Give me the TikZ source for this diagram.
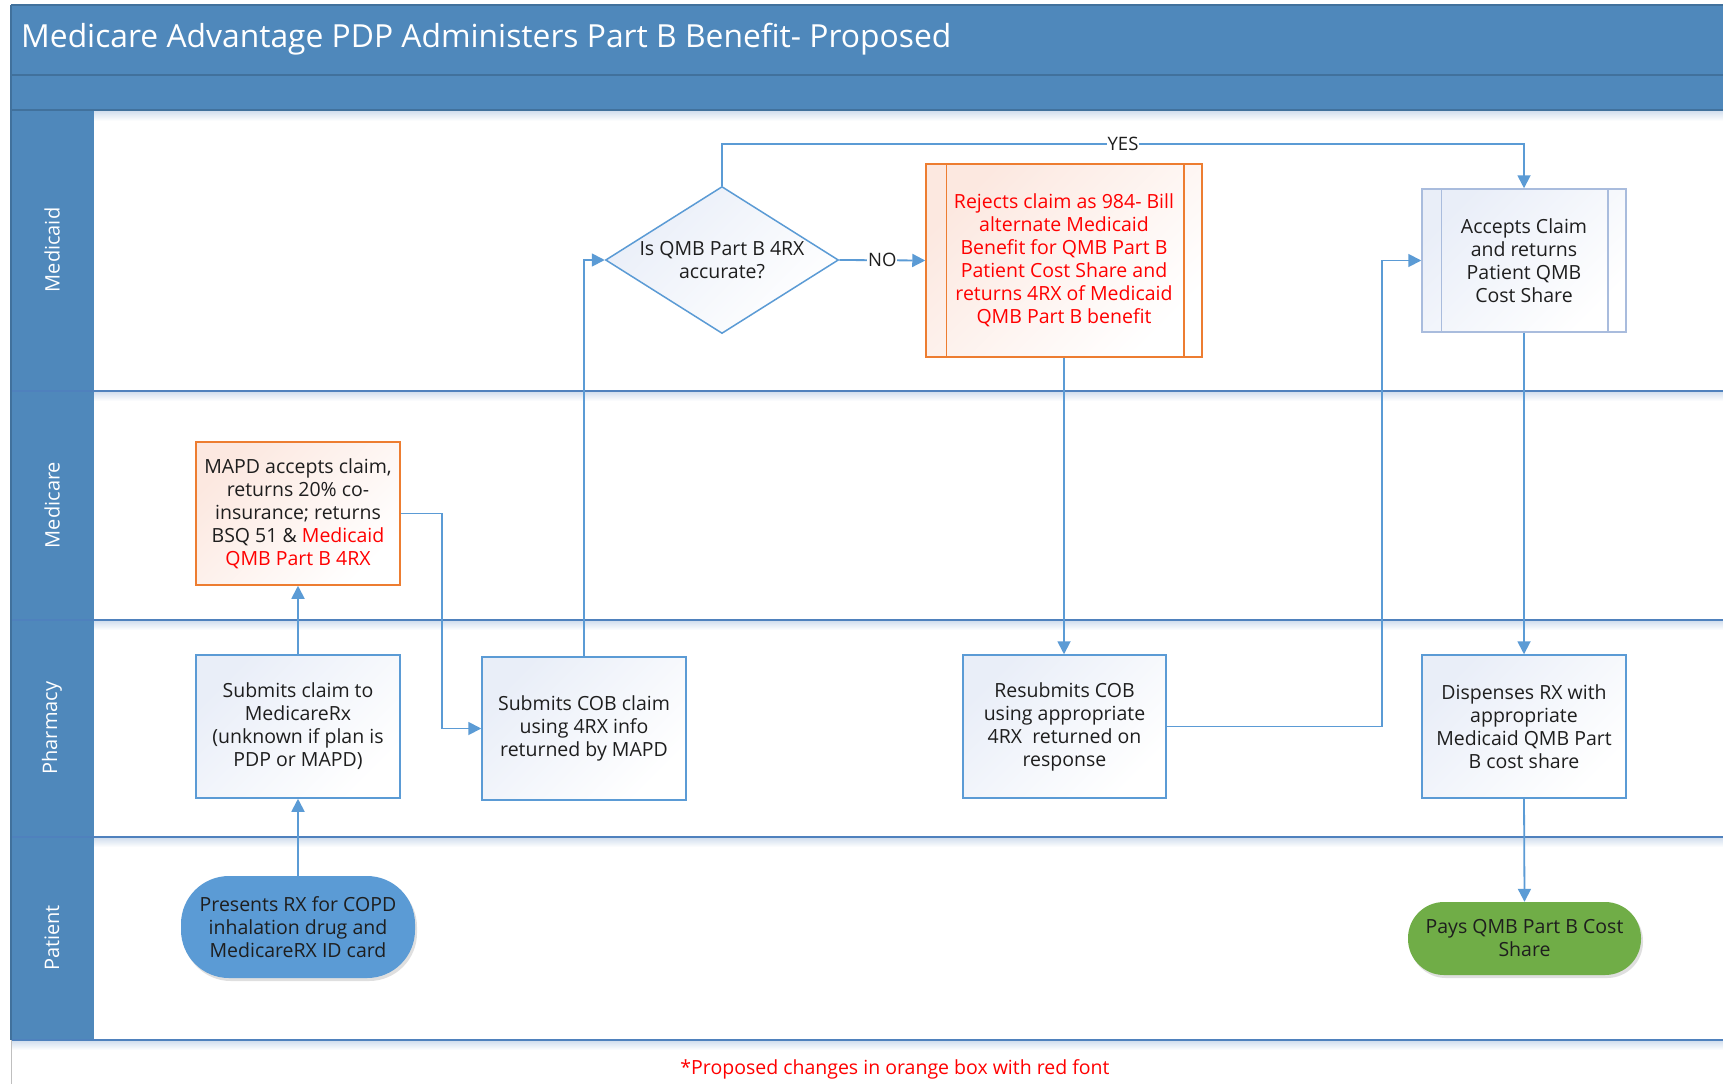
\documentclass[tikz,border=0pt]{standalone}
\usepackage{fontspec}
\setmainfont{Open Sans}
\usetikzlibrary{shapes.geometric,arrows.meta,shadows,calc}
\definecolor{hdr}{HTML}{4F88BB}
\definecolor{hdrline}{HTML}{41719C}
\definecolor{laneline}{HTML}{4F81BD}
\definecolor{connc}{HTML}{5B9BD5}
\definecolor{boxline}{HTML}{5B9BD5}
\definecolor{graybox}{HTML}{A9BCDD}
\definecolor{orangeline}{HTML}{ED7D31}
\definecolor{boxfill}{HTML}{E9EEF8}
\definecolor{orangefill}{HTML}{FCE8E0}
\definecolor{redtxt}{HTML}{FF0000}
\definecolor{greenfill}{HTML}{70AD47}
\definecolor{bluefill}{HTML}{5B9BD5}
\definecolor{txt}{HTML}{1E1E1E}
\definecolor{shadowc}{HTML}{D3DFEE}
\begin{document}
\begin{tikzpicture}[x=1pt,y=-1pt,
  every node/.style={font=\fontsize{19.5pt}{23pt}\selectfont, text=txt},
  proc/.style={draw=boxline, line width=1.5pt, top color=boxfill, bottom color=white, shading angle=45,
    minimum width=204pt, minimum height=143pt, align=center, inner sep=0pt},
  orangebox/.style={proc, draw=orangeline, top color=orangefill, bottom color=white, shading angle=45},
  predef/.style={proc, draw=graybox},
  decision/.style={shape=diamond, draw=boxline, line width=1.5pt, top color=boxfill, bottom color=white, shading angle=45,
    minimum width=233pt, minimum height=147pt, inner sep=0pt},
  terminal/.style={align=center, inner sep=0pt, drop shadow={shadow xshift=2pt, shadow yshift=-3pt, opacity=0.25}},
  arrowline/.style={draw=connc, line width=1.8pt, -{Triangle[length=13pt,width=13pt]}},
  lbl/.style={fill=white, inner sep=1pt, font=\fontsize{18.5pt}{22pt}\selectfont},
  lanelbl/.style={rotate=90, text=white, font=\fontsize{20pt}{24pt}\selectfont, inner sep=0pt},
  lane/.style={draw=laneline, line width=1.5pt},
  laneshadow/.style={top color=shadowc, bottom color=white, draw=none}
]
\useasboundingbox (0,0) rectangle (1723,1084);
\fill[white] (0,0) rectangle (1723,1084);

% ---- header bands and lane column
\fill[hdr] (11,5) rectangle (1723,110);
\fill[hdr] (11,110) rectangle (94,1040);
\shade[laneshadow] (94,111) rectangle (1723,121);
\shade[laneshadow] (94,392) rectangle (1723,401);
\shade[laneshadow] (94,621) rectangle (1723,630);
\shade[laneshadow] (94,838) rectangle (1723,847);
\shade[laneshadow] (11,1041) rectangle (1723,1050);
\draw[hdrline, line width=1.5pt] (11,5) -- (1723,5);
\draw[hdrline, line width=1.5pt] (11,75) -- (1723,75);
\draw[hdrline, line width=1.5pt] (11,110) -- (1723,110);
\draw[lane] (11,391) -- (1723,391);
\draw[lane] (11,620) -- (1723,620);
\draw[lane] (11,837) -- (1723,837);
\draw[lane] (11,1040) -- (1723,1040);
\draw[hdrline, line width=1.5pt] (11,5) -- (11,1040);
\draw[black!25, line width=1pt] (11,1040) -- (11,1084);

\node[anchor=west, inner sep=0pt, text=white, font=\fontsize{31.8pt}{36pt}\selectfont] (title) at (21,39)
  {Medicare Advantage PDP Administers Part B Benefit- Proposed};

\node[lanelbl] (lmcaid) at (52,250) {Medicaid};
\node[lanelbl] (lmcare) at (52,505) {Medicare};
\node[lanelbl] (lpharm) at (52,728) {Pharmacy};
\node[lanelbl] (lpat) at (52,938) {Patient};

% ---- nodes
\node[decision] (dia) at (722,260) {};
\node[align=center, inner sep=0pt] (diat) at (dia.center) {Is QMB Part B 4RX\\accurate?};

\node[orangebox, minimum width=276pt, minimum height=193pt, text=redtxt] (rej) at (1064,260.5)
  {Rejects claim as 984- Bill\\alternate Medicaid\\Benefit for QMB Part B\\Patient Cost Share and\\returns 4RX of Medicaid\\QMB Part B benefit};
\draw[orangeline, line width=1.5pt] ($(rej.north west)+(21,0)$) -- ($(rej.south west)+(21,0)$);
\draw[orangeline, line width=1.5pt] ($(rej.north east)+(-19,0)$) -- ($(rej.south east)+(-19,0)$);

\node[predef] (acc) at (1524,260.5) {Accepts Claim\\and returns\\Patient QMB\\Cost Share};
\draw[graybox, line width=1.5pt] ($(acc.north west)+(20,0)$) -- ($(acc.south west)+(20,0)$);
\draw[graybox, line width=1.5pt] ($(acc.north east)+(-19,0)$) -- ($(acc.south east)+(-19,0)$);

\node[orangebox] (mapd) at (298,513.5)
  {MAPD accepts claim,\\returns 20\% co-\\insurance; returns\\BSQ 51 \& \textcolor{redtxt}{Medicaid}\\\textcolor{redtxt}{QMB Part B 4RX}};

\node[proc] (sub1) at (298,726.5) {Submits claim to\\MedicareRx\\(unknown if plan is\\PDP or MAPD)};
\node[proc] (cob) at (584,728.5) {Submits COB claim\\using 4RX info\\returned by MAPD};
\node[proc, minimum width=203pt] (resub) at (1064.5,726.5) {Resubmits COB\\using appropriate\\4RX\ \ returned on\\response};
\node[proc] (disp) at (1524,726.5) {Dispenses RX with\\appropriate\\Medicaid QMB Part\\B cost share};

\node[terminal, fill=bluefill, rounded corners=48pt, minimum width=234pt, minimum height=102pt] (pres) at (298,927)
  {Presents RX for COPD\\inhalation drug and\\MedicareRX ID card};
\node[terminal, fill=greenfill, rounded corners=36pt, minimum width=233pt, minimum height=73pt] (pays) at (1524.5,938.5)
  {Pays QMB Part B Cost\\Share};

\node[text=redtxt] (note) at (895,1069) {*Proposed changes in orange box with red font};

% ---- connectors
\draw[arrowline] (pres.north) -- (sub1.south);
\draw[arrowline] (sub1.north) -- (mapd.south);
\draw[arrowline] (mapd.east) -- ++(41,0) |- (cob.west);
\draw[arrowline] (cob.north) |- (dia.west);
\draw[arrowline] (dia.east) -- node[lbl] (nolbl) {NO} (rej.west);
\coordinate (ytop) at ($(dia.north)+(0,-41.5)$);
\draw[arrowline] (dia.north) -- (ytop) -| node[lbl, pos=0.25] (yeslbl) {YES} (acc.north);
\draw[arrowline] (rej.south) -- (rej.south |- resub.north);
\draw[arrowline] (resub.east) -- ++(215,0) |- (acc.west);
\draw[arrowline] (acc.south) -- (disp.north);
\draw[arrowline] (disp.south) -- (pays.north);
\end{tikzpicture}
\end{document}
